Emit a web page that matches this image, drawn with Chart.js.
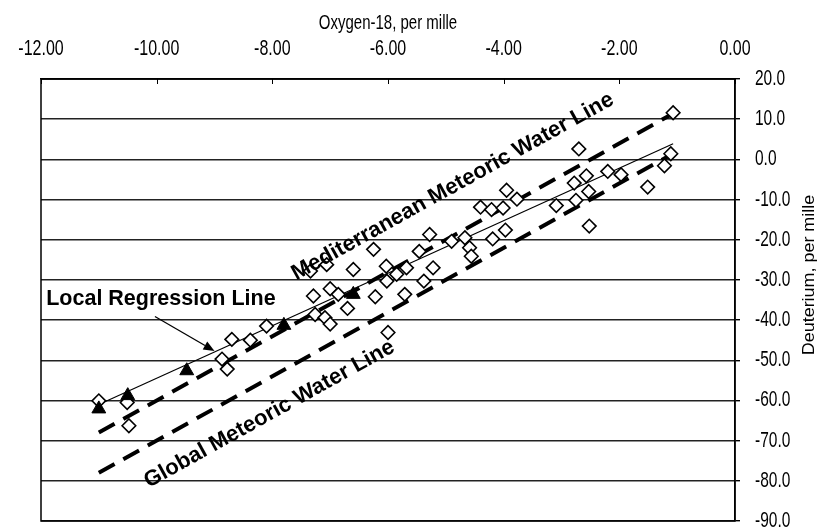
<!DOCTYPE html>
<html><head><meta charset="utf-8">
<script src="https://cdn.jsdelivr.net/npm/chart.js@4"></script>
<style>html,body{margin:0;padding:0;background:#fff}#wrap{width:824px;height:530px}</style>
</head><body><div id="wrap"><canvas id="c" width="824" height="530"></canvas></div>
<script>
// Sample values (open diamonds)
const oxygen18 = [-11.0,-10.51,-10.48,-8.87,-8.78,-8.7,-8.38,-8.1,-7.34,-7.06,-7.29,-7.0,-6.86,-7.26,-7.09,-7.0,-6.6,-6.7,-6.25,-6.22,-6.03,-6.02,-5.85,-5.68,-5.71,-5.46,-5.38,-5.22,-5.28,-4.9,-6.0,-4.67,-4.59,-4.56,-4.4,-4.21,-4.01,-3.95,-3.77,-3.97,-4.19,-3.09,-2.7,-2.78,-2.57,-2.75,-2.53,-2.52,-2.2,-1.97,-1.07,-1.11,-1.22,-1.51];
const deuterium = [-60.1,-60.5,-66.3,-49.7,-52.2,-44.8,-45.0,-41.5,-27.8,-26.2,-34.0,-32.2,-33.6,-38.6,-39.4,-41.0,-27.4,-37.1,-22.4,-34.2,-26.6,-30.3,-28.6,-27.0,-33.6,-22.9,-30.3,-27.0,-18.7,-20.4,-43.1,-19.5,-22.0,-24.1,-11.9,-12.5,-12.1,-7.7,-9.9,-17.6,-19.8,-11.5,2.6,-5.9,-4.1,-10.2,-8.0,-16.6,-3.0,-3.8,11.6,1.4,-1.6,-6.9];
// Filled triangles
const triO18 = [-11.0,-10.5,-9.48,-7.8,-6.6];
const triD = [-62.1,-58.8,-52.6,-41.3,-33.6];
// Lines
const mmwlX = [-11.0,-1.07], mmwlY = [-68.0,11.4];
const gmwlX = [-11.0,-1.1], gmwlY = [-78.0,1.2];
const lrlX = [-11.0,-1.07], lrlY = [-61.0,3.9];
// Axis ranges / ticks
const xMin = -12, xMax = 0, xStep = 2;
const yMin = -90, yMax = 20, yStep = 10;
// Annotation anchors (data coordinates)
const medLabel = {text:'Mediterranean Meteoric Water Line', x:-4.88, y:-6.8};
const gloLabel = {text:'Global Meteoric Water Line', x:-8.05, y:-63.4};
const locLabel = {text:'Local Regression Line', x:-11.91, y:-34.8};
const arrowFrom = [-10.03,-39.1], arrowTo = [-9.0,-47.7];

const pts = (xs, ys) => xs.map((v,i)=>({x:v,y:ys[i]}));
const SANS = '"Liberation Sans", Arial, sans-serif';
const STRETCH = 1.4;

// draw a scale's text vertically stretched (the reference's axis text is tall and narrow)
function stretchScale(s){
  if (s._stretched) return;
  s._stretched = true;
  const wrap = (name) => {
    const orig = s[name].bind(s);
    s[name] = function(...args){
      const ctx = s.ctx;
      const proto = Object.getPrototypeOf(ctx).fillText;
      ctx.fillText = function(t,x,y,mw){
        this.save(); this.translate(x,y); this.scale(1,STRETCH);
        if (mw === undefined) proto.call(this,t,0,0); else proto.call(this,t,0,0,mw);
        this.restore();
      };
      try { orig(...args); } finally { delete ctx.fillText; }
    };
  };
  wrap('drawLabels'); wrap('drawTitle');
}

const decor = {
  id:'decor',
  beforeDatasetsDraw(chart){
    const {ctx, chartArea:a} = chart;
    ctx.save();
    ctx.strokeStyle='#000'; ctx.lineWidth=1.5;
    ctx.strokeRect(a.left, a.top, a.right-a.left, a.bottom-a.top);
    const xs = chart.scales.x;
    xs.ticks.forEach(t=>{
      const px = Math.round(xs.getPixelForValue(t.value))+0.5;
      ctx.beginPath(); ctx.moveTo(px,a.top); ctx.lineTo(px,a.top+5); ctx.lineWidth=1; ctx.stroke();
    });
    ctx.restore();
  },
  afterDatasetsDraw(chart){
    const {ctx, chartArea:a} = chart;
    const xs = chart.scales.x, ys = chart.scales.y;
    const P = (x,y)=>[xs.getPixelForValue(x), ys.getPixelForValue(y)];
    ctx.save();
    ctx.fillStyle='#000';
    ctx.font = 'bold 22px ' + SANS;
    ctx.textBaseline='middle';
    const [x0,y0]=P(mmwlX[0],mmwlY[0]), [x1,y1]=P(mmwlX[1],mmwlY[1]);
    const ang = Math.atan2(y1-y0, x1-x0);
    [medLabel, gloLabel].forEach(L=>{
      const [px,py]=P(L.x,L.y);
      ctx.save(); ctx.translate(px,py); ctx.rotate(ang);
      ctx.textAlign='center';
      ctx.fillText(L.text,0,0);
      ctx.restore();
    });
    ctx.font = 'bold 21.5px ' + SANS;
    const [lx,ly]=P(locLabel.x,locLabel.y);
    ctx.textAlign='left';
    ctx.fillText(locLabel.text,lx,ly);
    const [ax,ay]=P(arrowFrom[0],arrowFrom[1]), [bx,by]=P(arrowTo[0],arrowTo[1]);
    ctx.strokeStyle='#000'; ctx.lineWidth=1.3;
    const aa = Math.atan2(by-ay,bx-ax);
    const hl=11, hw=4.5;
    const cx=bx-hl*Math.cos(aa), cy=by-hl*Math.sin(aa);
    ctx.beginPath(); ctx.moveTo(ax,ay); ctx.lineTo(cx,cy); ctx.stroke();
    ctx.beginPath(); ctx.moveTo(bx,by);
    ctx.lineTo(cx+hw*Math.sin(aa), cy-hw*Math.cos(aa));
    ctx.lineTo(cx-hw*Math.sin(aa), cy+hw*Math.cos(aa));
    ctx.closePath(); ctx.fill();
    ctx.restore();
    // y axis title (reads bottom to top)
    ctx.save();
    ctx.font = '16px ' + SANS; ctx.fillStyle='#000';
    ctx.textAlign='center'; ctx.textBaseline='middle';
    ctx.translate(810, (a.top+a.bottom)/2 - 25);
    ctx.rotate(-Math.PI/2);
    ctx.scale(1.12,1);
    ctx.fillText('Deuterium, per mille',0,0);
    ctx.restore();
  }
};

new Chart(document.getElementById('c'), {
  type:'scatter',
  data:{datasets:[
    {label:'Triangles', data:pts(triO18,triD), pointStyle:'triangle', pointRadius:8, pointBackgroundColor:'#000', pointBorderColor:'#000', pointBorderWidth:1, showLine:false},
    {label:'Samples', data:pts(oxygen18,deuterium), pointStyle:'rectRot', pointRadius:6.8, pointBackgroundColor:'#fff', pointBorderColor:'#000', pointBorderWidth:1.6, showLine:false},
    {label:'Local Regression Line', data:pts(lrlX,lrlY), showLine:true, borderColor:'#000', borderWidth:1.2, pointRadius:0, fill:false},
    {label:'Mediterranean Meteoric Water Line', data:pts(mmwlX,mmwlY), showLine:true, borderColor:'#000', borderWidth:4, borderDash:[18,10], pointRadius:c=>c.dataIndex===1?1.6:0, pointBackgroundColor:'#000', fill:false},
    {label:'Global Meteoric Water Line', data:pts(gmwlX,gmwlY), showLine:true, borderColor:'#000', borderWidth:4, borderDash:[18,10], pointRadius:c=>c.dataIndex===1?1.6:0, pointBackgroundColor:'#000', fill:false}
  ]},
  options:{
    responsive:false, animation:false, devicePixelRatio:1,
    layout:{padding:{left:41,bottom:8,right:0,top:0}},
    plugins:{legend:{display:false}, tooltip:{enabled:false}},
    scales:{
      x:{type:'linear', position:'top', min:xMin, max:xMax,
        ticks:{stepSize:xStep, color:'#000', font:{family:SANS, size:16}, padding:21, maxRotation:0,
          callback:v=>v.toFixed(2)},
        grid:{drawOnChartArea:false, drawTicks:false},
        border:{display:true, color:'#000', width:1.5},
        title:{display:true, text:'Oxygen-18, per mille', color:'#000', font:{family:SANS, size:15}, padding:{top:14,bottom:0}},
        afterFit:s=>{s.height=79; s.paddingLeft=0; s.paddingRight=0;},
        afterUpdate:s=>stretchScale(s)
      },
      y:{type:'linear', position:'right', min:yMin, max:yMax,
        ticks:{stepSize:yStep, color:'#000', font:{family:SANS, size:15.5}, padding:15,
          callback:v=>v.toFixed(1)},
        grid:{color:'#222', lineWidth:1.4, tickLength:5, drawTicks:true, tickColor:'#000'},
        border:{display:true, color:'#000', width:1.5},
        afterFit:s=>{s.width=89; s.paddingTop=0; s.paddingBottom=0;},
        afterUpdate:s=>stretchScale(s)
      }
    }
  },
  plugins:[decor]
});
</script></body></html>
